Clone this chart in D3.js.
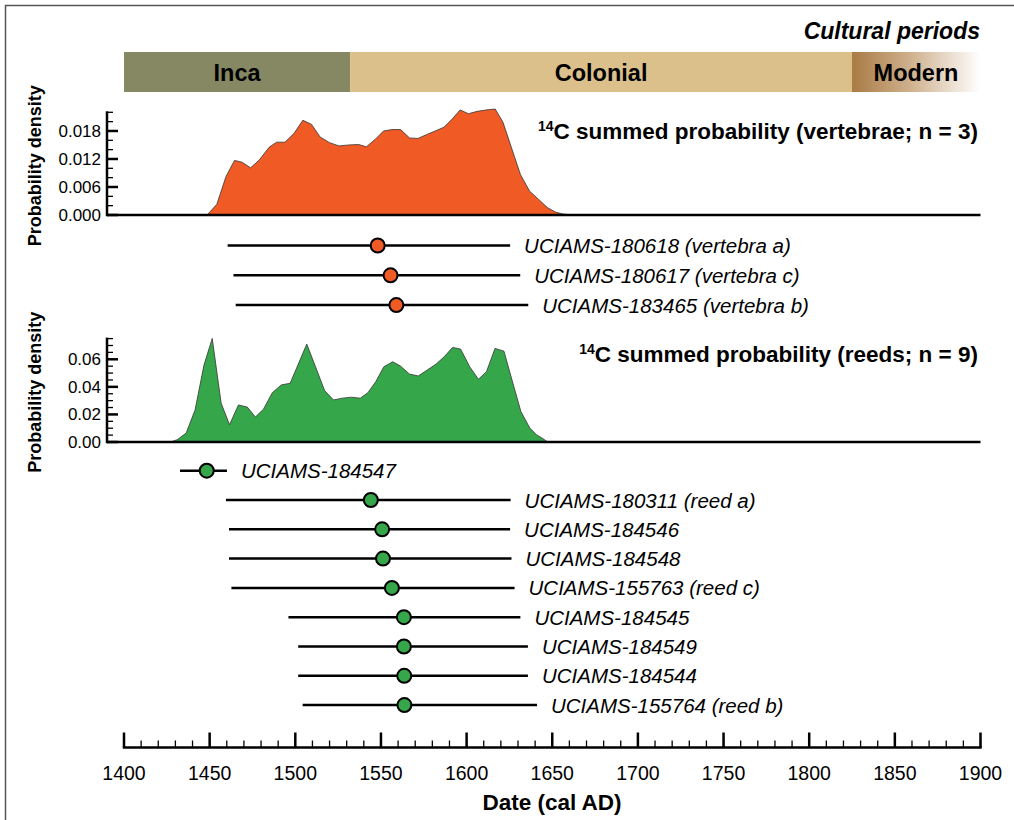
<!DOCTYPE html>
<html>
<head>
<meta charset="utf-8">
<script src="https://cdn.jsdelivr.net/npm/d3@7"></script>
<style>
  body { margin: 0; background: #fff; }
  svg { font-family: "Liberation Sans", Arial, Helvetica, sans-serif; }
</style>
</head>
<body>
<svg id="chart" width="1014" height="820"></svg>
<script>
/**
 *  Summed 14C probabilities and individual dates, vertebrae vs reeds
 */

// cultural periods (start, end in cal AD)
var periodNames = ["Inca", "Colonial", "Modern"];
var periodStart = [1400, 1532, 1825];
var periodEnd   = [1532, 1825, 1900];

// summed probability, vertebrae (n = 3)
var vertYears = [1448.5, 1454.2, 1459.5, 1464.5, 1469, 1473.9, 1479, 1484.7, 1489.1, 1494, 1499.3, 1504.4,
                 1509.5, 1514.5, 1520, 1525.5, 1531, 1537, 1541.5, 1546.6, 1551.5, 1556.4, 1561.5, 1566.7,
                 1571.6, 1576.5, 1581.7, 1586.8, 1591.7, 1596.2, 1601.1, 1606.2, 1611.4, 1616.7, 1621.2, 1626.3,
                 1631.4, 1636.8, 1641.9, 1647.1, 1652, 1656.5, 1663];
var vertDensity = [0, 0.0023, 0.0082, 0.0117, 0.0113, 0.0101, 0.0118, 0.0145, 0.0156, 0.0156, 0.0175, 0.0203,
                   0.0194, 0.0167, 0.0155, 0.0148, 0.0150, 0.0151, 0.0146, 0.0162, 0.0180, 0.0183, 0.0183, 0.0165,
                   0.0164, 0.0172, 0.0180, 0.0188, 0.0206, 0.0225, 0.0217, 0.0222, 0.0225, 0.0227, 0.0199, 0.0143,
                   0.0087, 0.0051, 0.0034, 0.0016, 0.0006, 0.0002, 0];

// summed probability, reeds (n = 9)
var reedYears = [1427.2, 1431.1, 1436.3, 1441.5, 1446.7, 1451.5, 1456.7, 1461.6, 1466.8, 1472, 1476.7, 1481.4,
                 1486.6, 1491.8, 1497, 1501.5, 1506.7, 1511.8, 1517.1, 1522.3, 1527.5, 1532.7, 1537.9, 1542.4,
                 1547, 1551.7, 1556.9, 1561.4, 1566.6, 1571.8, 1577, 1582.2, 1586.9, 1591.8, 1596.5, 1601.8,
                 1606.9, 1611.6, 1616.6, 1621.8, 1626.5, 1631.7, 1636.9, 1640.8, 1645.5, 1647.3];
var reedDensity = [0, 0.0017, 0.0065, 0.0233, 0.0558, 0.0751, 0.0282, 0.0125, 0.0269, 0.0253, 0.0181, 0.0238,
                   0.0358, 0.0414, 0.0426, 0.0558, 0.0710, 0.0546, 0.0373, 0.0305, 0.0318, 0.0325, 0.0318, 0.0358,
                   0.0438, 0.0546, 0.0582, 0.0551, 0.0493, 0.0479, 0.0522, 0.0565, 0.0618, 0.0686, 0.0674, 0.0546,
                   0.0455, 0.0510, 0.0679, 0.0659, 0.0450, 0.0221, 0.0101, 0.0053, 0.0017, 0];

// individual dates: lower, median, upper (cal AD)
var vertLabels = ["UCIAMS-180618 (vertebra a)", "UCIAMS-180617 (vertebra c)", "UCIAMS-183465 (vertebra b)"];
var vertLow    = [1460.5, 1463.9, 1465.2];
var vertMid    = [1548.1, 1555.6, 1559.0];
var vertHigh   = [1625.4, 1631.3, 1636.0];

var reedLabels = ["UCIAMS-184547", "UCIAMS-180311 (reed a)", "UCIAMS-184546", "UCIAMS-184548",
                  "UCIAMS-155763 (reed c)", "UCIAMS-184545", "UCIAMS-184549", "UCIAMS-184544",
                  "UCIAMS-155764 (reed b)"];
var reedLow  = [1432.7, 1459.5, 1461.3, 1461.3, 1462.7, 1496.0, 1501.7, 1501.7, 1504.3];
var reedMid  = [1448.3, 1544.1, 1550.7, 1551.2, 1556.4, 1563.4, 1563.4, 1563.6, 1563.7];
var reedHigh = [1460.1, 1625.7, 1625.4, 1626.2, 1628.0, 1631.4, 1635.8, 1635.8, 1641.1];

var yearTicks = d3.range(1400, 1901, 50);

var svg  = d3.select("#chart");
var defs = svg.append("defs");
var orange = "#f05a24";
var green  = "#36a64a";

var x = d3.scaleLinear().domain([1400, 1900]).range([124, 980.5]);

// frame
svg.append("rect")
   .attr("x", 5.5).attr("y", 5.5)
   .attr("width", 1020).attr("height", 830)
   .attr("fill", "none").attr("stroke", "#555").attr("stroke-width", 1.5);

// modern period fades to white
var grad = defs.append("linearGradient").attr("id", "modern-grad");
grad.append("stop").attr("offset", "0%").attr("stop-color", "#a97b45");
grad.append("stop").attr("offset", "45%").attr("stop-color", "#cfb08d");
grad.append("stop").attr("offset", "100%").attr("stop-color", "#ffffff");

var periodFill = ["#858862", "#dcc08c", "url(#modern-grad)"];

svg.append("text")
   .attr("x", 980).attr("y", 39)
   .attr("text-anchor", "end")
   .attr("font-size", 23).attr("font-weight", "bold").attr("font-style", "italic")
   .text("Cultural periods");

var period = svg.selectAll("g.period")
    .data(periodNames).enter()
    .append("g").attr("class", "period");
period.append("rect")
    .attr("x", function(d, i) { return x(periodStart[i]); })
    .attr("y", 52)
    .attr("width", function(d, i) { return x(periodEnd[i]) - x(periodStart[i]); })
    .attr("height", 40)
    .attr("fill", function(d, i) { return periodFill[i]; });
period.append("text")
    .attr("x", function(d, i) { return i == 2 ? 916 : (x(periodStart[i]) + x(periodEnd[i])) / 2; })
    .attr("y", 81)
    .attr("text-anchor", "middle")
    .attr("font-size", 23.5).attr("font-weight", "bold")
    .text(function(d) { return d; });

/**
 *  Density panel: area, axes, title
 */
function densityPanel(years, dens, fill, y0, yMax, yTop, majorStep, minorStep, fmt, title, titleY)
{
    var y = d3.scaleLinear().domain([0, yMax]).range([y0, yTop]);
    var g = svg.append("g");
    var area = d3.area()
        .x(function(d, i) { return x(years[i]); })
        .y0(y0)
        .y1(function(d) { return y(d); });
    g.append("path")
     .datum(dens)
     .attr("d", area)
     .attr("fill", fill)
     .attr("stroke", "#333").attr("stroke-width", 0.8);

    // minor ticks then major ticks, pointing right of the axis
    var axisX = 107;
    var minor = d3.range(0, yMax + 1e-9, minorStep);
    var major = d3.range(0, yMax * 0.99, majorStep);
    g.selectAll("line.minor").data(minor).enter().append("line")
     .attr("x1", axisX).attr("x2", axisX + 6)
     .attr("y1", function(d) { return y(d); }).attr("y2", function(d) { return y(d); })
     .attr("stroke", "#000").attr("stroke-width", 1.3);
    g.selectAll("line.major").data(major).enter().append("line")
     .attr("x1", axisX).attr("x2", axisX + 11)
     .attr("y1", function(d) { return y(d); }).attr("y2", function(d) { return y(d); })
     .attr("stroke", "#000").attr("stroke-width", 2.5);
    g.selectAll("text.tick").data(major).enter().append("text")
     .attr("x", axisX - 6)
     .attr("y", function(d) { return y(d) + 6; })
     .attr("text-anchor", "end")
     .attr("font-size", 17)
     .text(function(d) { return d3.format(fmt)(d); });

    g.append("line")
     .attr("x1", axisX).attr("x2", axisX)
     .attr("y1", y(yMax) - 1).attr("y2", y0 + 1.2)
     .attr("stroke", "#000").attr("stroke-width", 2.5);
    g.append("line")
     .attr("x1", axisX).attr("x2", 980.5)
     .attr("y1", y0).attr("y2", y0)
     .attr("stroke", "#000").attr("stroke-width", 2.5);

    g.append("text")
     .attr("transform", "translate(41," + ((y0 + yTop) / 2 + 2) + ") rotate(-90)")
     .attr("text-anchor", "middle")
     .attr("font-size", 18).attr("font-weight", "bold")
     .text("Probability density");

    var t = g.append("text")
     .attr("x", 978).attr("y", titleY)
     .attr("text-anchor", "end")
     .attr("font-size", 22.5).attr("font-weight", "bold");
    t.append("tspan").attr("font-size", 14).attr("dy", -8).text("14");
    t.append("tspan").attr("dy", 8).text(title);
}

densityPanel(vertYears, vertDensity, orange, 215, 0.022, 112.3, 0.006, 0.002, ".3f",
             "C summed probability (vertebrae; n = 3)", 139);
densityPanel(reedYears, reedDensity, green, 442, 0.075, 338.6, 0.02, 0.005, ".2f",
             "C summed probability (reeds; n = 9)", 362);

/**
 *  Individual calibrated dates
 */
function datesBlock(labels, lo, mid, hi, fill, yStart, step)
{
    var row = svg.append("g").selectAll("g")
        .data(labels).enter()
        .append("g")
        .attr("transform", function(d, i) { return "translate(0," + (yStart + i * step) + ")"; });
    row.append("line")
       .attr("x1", function(d, i) { return x(lo[i]); })
       .attr("x2", function(d, i) { return x(hi[i]); })
       .attr("stroke", "#000").attr("stroke-width", 2.5);
    row.append("circle")
       .attr("cx", function(d, i) { return x(mid[i]); })
       .attr("r", 7)
       .attr("fill", fill).attr("stroke", "#000").attr("stroke-width", 2);
    row.append("text")
       .attr("x", function(d, i) { return x(hi[i]) + 14; })
       .attr("y", 7.5)
       .attr("font-size", 20.5).attr("font-style", "italic")
       .text(function(d) { return d; });
}

datesBlock(vertLabels, vertLow, vertMid, vertHigh, orange, 245.5, 29.8);
datesBlock(reedLabels, reedLow, reedMid, reedHigh, green, 470.7, 29.3);

// date axis
var axisY = 747.5;
var ax = svg.append("g");
ax.selectAll("line.minor").data(d3.range(1400, 1901, 10)).enter().append("line")
  .attr("x1", function(d) { return x(d); }).attr("x2", function(d) { return x(d); })
  .attr("y1", axisY).attr("y2", axisY - 7)
  .attr("stroke", "#000").attr("stroke-width", 1.3);
ax.selectAll("line.major").data(yearTicks).enter().append("line")
  .attr("x1", function(d) { return x(d); }).attr("x2", function(d) { return x(d); })
  .attr("y1", axisY).attr("y2", axisY - 15)
  .attr("stroke", "#000").attr("stroke-width", 2.5);
ax.append("line")
  .attr("x1", x(1400) - 1.2).attr("x2", x(1900) + 1.2)
  .attr("y1", axisY).attr("y2", axisY)
  .attr("stroke", "#000").attr("stroke-width", 2.5);
ax.selectAll("text").data(yearTicks).enter().append("text")
  .attr("x", function(d) { return x(d); })
  .attr("y", 780)
  .attr("text-anchor", "middle")
  .attr("font-size", 19.5)
  .text(function(d) { return d; });
svg.append("text")
   .attr("x", 552).attr("y", 810)
   .attr("text-anchor", "middle")
   .attr("font-size", 22.5).attr("font-weight", "bold")
   .text("Date (cal AD)");
</script>
</body>
</html>
